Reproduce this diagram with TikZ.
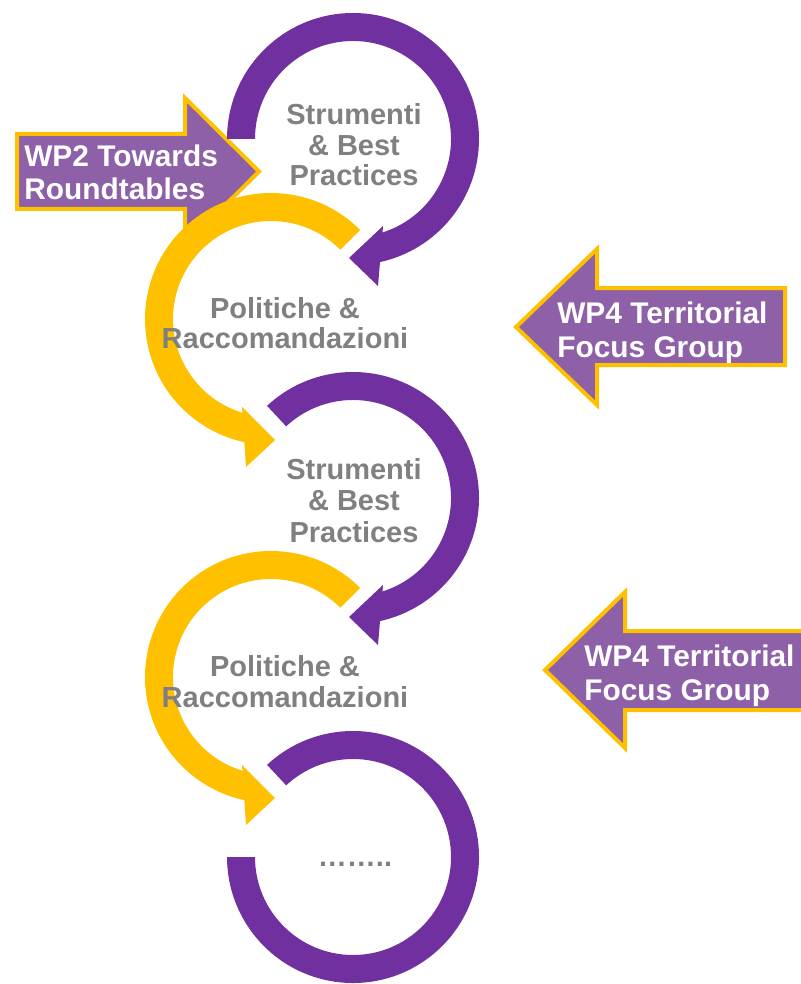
\documentclass[tikz,border=0pt]{standalone}
\usepackage{fontspec}
\setmainfont{Liberation Sans}
\usetikzlibrary{calc}
\definecolor{ringpurple}{HTML}{7030A0}
\definecolor{ringyellow}{HTML}{FFC000}
\definecolor{wpfill}{HTML}{8D60A7}
\definecolor{labelgray}{HTML}{808080}
\newcommand\ringband[4]{%
  \fill[#4] (#1) ++(#2:126) arc[start angle=#2, end angle=#3, radius=126]
    -- ++(#3:-28) arc[start angle=#3, end angle=#2, radius=98] -- cycle;}
\newcommand\purplehead[1]{%
  \fill[ringP] ($(#1)+(30,87)$) -- ($(#1)+(-4,119)$) -- ($(#1)+(25,147)$) -- cycle;}
\newcommand\yellowhead[1]{%
  \fill[ringY] ($(#1)+(-29,88)$) -- ($(#1)+(4,121)$) -- ($(#1)+(-25,148)$) -- cycle;}
\begin{document}
\begin{tikzpicture}[x=0.75pt,y=-0.75pt,
  ringP/.style={fill=ringpurple},
  ringY/.style={fill=ringyellow},
  wparrow/.style={fill=wpfill, draw=ringyellow, line width=3pt, line join=miter},
  lbl/.style={font=\bfseries\fontsize{21.75}{26}\selectfont, text=labelgray, inner sep=0, anchor=base},
  wptext/.style={font=\bfseries\fontsize{22.4}{26}\selectfont, text=white, inner sep=0, anchor=base west}]
\useasboundingbox (0,0) rectangle (800,984);

\coordinate (p1) at (353,139);
\coordinate (p2) at (353,498);
\coordinate (p3) at (353,857);
\coordinate (y1) at (271,319);
\coordinate (y2) at (271,677);

% WP2 arrow (under the yellow ring)
\draw[wparrow] (17,134) -- (185,134) -- (185,98) -- (259,171.5) -- (185,245) -- (185,209) -- (17,209) -- cycle;

% yellow rings
\ringband{y1}{-45}{-258}{ringY}
\yellowhead{y1}
\ringband{y2}{-45}{-258}{ringY}
\yellowhead{y2}

% purple rings
\ringband{p1}{180}{438}{ringP}
\purplehead{p1}
\ringband{p2}{-133}{78}{ringP}
\purplehead{p2}
\ringband{p3}{-133}{180}{ringP}

% WP4 arrows
\draw[wparrow] (516,327) -- (597,249) -- (597,288) -- (785,288) -- (785,365) -- (597,365) -- (597,405) -- cycle;
\draw[wparrow] (545,670) -- (625,592) -- (625,631) -- (810,631) -- (810,710) -- (625,710) -- (625,748) -- cycle;

% ring labels
\node[lbl] (s1a) at (354,125) {Strumenti};
\node[lbl] (s1b) at (354,156) {\& Best};
\node[lbl] (s1c) at (354,186) {Practices};
\node[lbl] (r1a) at (285,318) {Politiche \&};
\node[lbl] (r1b) at (285,348) {Raccomandazioni};
\node[lbl] (s2a) at (354,479) {Strumenti};
\node[lbl] (s2b) at (354,510) {\& Best};
\node[lbl] (s2c) at (354,542) {Practices};
\node[lbl] (r2a) at (285,676) {Politiche \&};
\node[lbl] (r2b) at (285,707) {Raccomandazioni};
\node[lbl] (dots) at (355,866) {……..};

% WP labels
\node[wptext] (wp2a) at (24,167) {WP2 Towards};
\node[wptext] (wp2b) at (24,200) {Roundtables};
\node[wptext] (wp4a) at (557,323) {WP4 Territorial};
\node[wptext] (wp4b) at (557,357) {Focus Group};
\node[wptext] (wp4c) at (584,666) {WP4 Territorial};
\node[wptext] (wp4d) at (584,700) {Focus Group};
\end{tikzpicture}
\end{document}
